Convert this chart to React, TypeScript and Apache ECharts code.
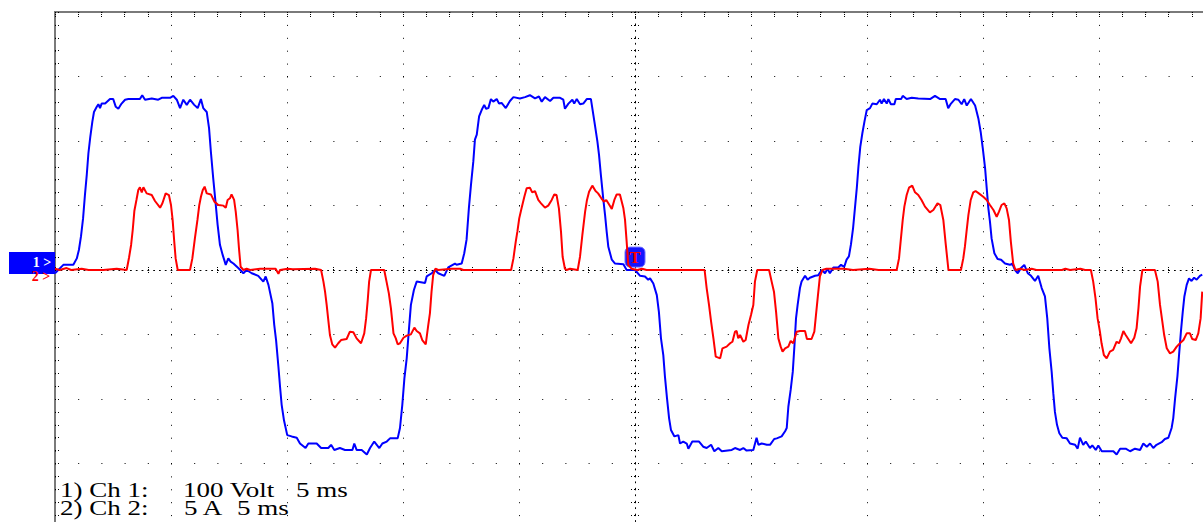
import React, { useEffect, useRef } from "react";
import * as echarts from "echarts";

// Channel 1 (blue): time in ms from the left edge of the screen, value in volts
const ch1Time = [
  0, 0.36, 0.79, 0.94, 1.03, 1.12, 1.21, 1.29, 1.37, 1.44, 1.52, 1.61, 1.68, 1.8, 1.87, 1.94, 2.01, 2.16, 2.37, 2.51,
  2.62, 2.73, 2.87, 3.02, 3.16, 3.66, 3.76, 3.88, 4.17, 4.45, 4.6, 4.96, 5.1, 5.25, 5.39, 5.53, 5.68, 5.82, 6.0, 6.15,
  6.29, 6.39, 6.54, 6.64, 6.72, 6.82, 6.93, 7.01, 7.11, 7.23, 7.36, 7.47, 7.57, 7.69, 7.9, 8.12, 8.26,
  8.48, 8.76, 8.98, 9.08, 9.2, 9.37, 9.45, 9.53, 9.63, 9.7, 9.77, 9.87, 10.01, 10.2, 10.42, 10.56, 10.8, 10.92, 11.28,
  11.47, 11.78, 11.9, 12.04, 12.28, 12.5, 12.82, 12.9, 13.0, 13.22, 13.44, 13.58, 13.76, 13.98, 14.11, 14.3, 14.44,
  14.77, 14.87, 14.97, 15.06, 15.16, 15.26, 15.34, 15.47, 15.59, 15.95, 16.02, 16.24,
  16.38, 16.52, 16.78, 16.95, 17.24, 17.31, 17.53, 17.64, 17.74, 17.84, 17.93, 18.03, 18.1, 18.18, 18.28, 18.39, 18.5,
  18.58, 18.68, 18.79, 18.89, 19.04, 19.14, 19.25, 19.43, 19.61, 19.76, 20.04, 20.26, 20.47, 20.69, 20.86, 20.98,
  21.12, 21.34, 21.48, 21.77, 21.91, 21.98, 22.13, 22.3, 22.38, 22.49, 22.63, 22.77, 22.92, 23.1, 23.25, 23.38, 23.45,
  23.53, 23.63, 23.71, 23.78, 23.85, 24.0, 24.14, 24.5, 24.64,
  25.0, 25.22, 25.43, 25.57, 25.65, 25.79, 25.94, 26.03, 26.12, 26.22, 26.29, 26.38, 26.47, 26.55, 26.7, 26.87, 26.94,
  27.08, 27.23, 27.3, 27.47, 27.76, 27.94, 28.09, 28.28, 28.42, 28.59, 28.74, 29.17, 29.31, 29.53, 29.67, 29.81, 30.1,
  30.24, 30.32, 30.46, 30.68, 30.82, 31.0, 31.11, 31.32, 31.47, 31.54, 31.61, 31.71, 31.8, 31.87, 31.94, 32.01, 32.11,
  32.18, 32.33, 32.44, 32.54, 32.76,
  32.9, 33.05, 33.19, 33.3, 33.4, 33.55, 33.76, 33.88, 34.02, 34.12, 34.22, 34.31, 34.4, 34.48, 34.56, 34.63, 34.71,
  34.8, 34.89, 34.99, 35.13, 35.23, 35.42, 35.56, 35.63, 35.73, 35.85, 35.92, 36.03, 36.18, 36.24, 36.47, 36.54, 36.71,
  36.93, 37.21, 37.72, 37.93, 38.15, 38.39, 38.5, 38.62, 38.79, 38.94, 39.08, 39.19, 39.3, 39.48, 39.66, 39.8, 39.9,
  39.99, 40.09, 40.16, 40.23, 40.3, 40.37, 40.49, 40.63, 40.78, 40.95, 41.16,
  41.26, 41.38, 41.5, 41.64, 41.78, 41.93, 42.07, 42.24, 42.38, 42.53, 42.67, 42.77, 42.86, 42.96, 43.03, 43.1, 43.19,
  43.29, 43.42, 43.61, 43.75, 43.97, 44.08, 44.18, 44.32, 44.43, 44.61, 44.71, 44.86, 44.97, 45.12, 45.62, 45.76,
  45.91, 46.15, 46.34, 46.55, 46.77, 46.91, 47.06, 47.2, 47.34, 47.48, 47.7, 47.84, 47.99, 48.13, 48.2, 48.28, 48.38,
  48.45, 48.53, 48.61, 48.68, 48.78, 48.88, 48.99, 49.1, 49.21, 49.35, 49.45,
];
const ch1Volt = [
  -5, 8, 8, 18, 31, 52, 80, 116, 148, 181, 206, 230, 245, 253, 257, 251, 258, 258, 265, 265,
  253, 250, 258, 264, 265, 265, 271, 264, 266, 264, 267, 267, 270, 264, 251, 264, 256, 264, 256, 251,
  265, 251, 245, 220, 183, 142, 101, 70, 39, 23, 8, 18, 13, 10, 3, -5, 0,
  -5, -9, -18, -10, -23, -52, -85, -109, -150, -181, -209, -233, -256, -258, -260, -269, -276, -269, -269,
  -276, -276, -271, -279, -276, -279, -279, -269, -279, -279, -286, -276, -266, -276, -269, -266, -261,
  -261, -245, -209, -168, -137, -90, -54, -31, -18, -20, -10, -5,
  0, -5, -9, 4, 10, 8, 10, 26, 47, 96, 132, 168, 202, 210, 238, 248, 256,
  250, 251, 265, 261, 265, 258, 259, 251, 262, 268, 266, 268, 271, 266, 269, 261,
  268, 262, 267, 267, 264, 250, 258, 264, 258, 265, 257, 258, 265, 265, 230, 199, 178,
  147, 111, 85, 59, 36, 16, 10, 9, 0,
  0, -9, -10, -15, -13, -21, -39, -65, -106, -132, -165, -199, -230, -248, -258, -256, -269,
  -266, -269, -277, -266, -266, -274, -276, -271, -281, -276, -281, -279, -276, -279, -276, -280, -279,
  -260, -271, -269, -271, -271, -262, -261, -258, -250, -245, -212, -186, -158, -119, -75, -54, -28,
  -18, -9, -15, -12, -9,
  -8, 0, -5, 2, -5, 4, 4, 8, 5, 16, 21, 40, 65, 96, 127, 160, 191,
  212, 230, 248, 251, 258, 257, 264, 258, 265, 258, 265, 257, 257, 265, 265, 270, 265,
  267, 266, 265, 270, 265, 265, 251, 258, 265, 264, 257, 265, 255, 265, 255, 235, 214,
  189, 158, 127, 96, 75, 49, 26, 17, 16, 10, 8,
  10, 0, -5, 3, 8, -5, -9, -17, -9, -28, -41, -75, -121, -158, -191, -220, -240,
  -253, -260, -261, -269, -271, -277, -260, -271, -266, -276, -272, -279, -272, -281, -281, -286,
  -277, -277, -281, -277, -279, -269, -274, -269, -276, -271, -267, -262, -260, -245, -230, -199, -165,
  -132, -96, -65, -41, -23, -13, -17, -12, -15, -9, -7,
];

// Channel 2 (red): time in ms from the left edge of the screen, value in amperes
const ch2Time = [
  0, 0.2, 0.5, 0.7, 1.15, 1.45, 2.08, 2.66, 3.09, 3.19, 3.28, 3.35, 3.42, 3.51, 3.59, 3.66, 3.74, 3.81, 3.95, 4.17,
  4.31, 4.53, 4.63, 4.77, 4.91, 5.0, 5.07, 5.14, 5.2, 5.29, 5.82, 5.92, 6.03, 6.14, 6.22, 6.29, 6.37, 6.45, 6.54,
  6.72, 6.87, 7.04, 7.26, 7.36, 7.44, 7.54, 7.61, 7.72, 7.79, 7.87, 7.93, 8.0, 8.12, 8.26, 8.41, 8.84, 9.51, 9.63,
  9.7, 10.03, 10.25, 11.21, 11.47, 11.57, 11.64, 11.71, 11.78, 11.85, 11.95, 12.07, 12.21, 12.33, 12.57, 12.71,
  12.86, 13.0, 13.19, 13.33, 13.41, 13.48, 13.54, 13.62, 14.19, 14.29, 14.39, 14.48, 14.59, 14.69, 14.77, 14.87,
  15.02, 15.16, 15.34, 15.49, 15.59, 15.73, 15.83, 15.98, 16.09, 16.16, 16.23, 16.3, 16.4, 16.52, 17.1, 17.46, 17.6,
  19.66, 19.76, 19.86, 19.93, 20.01, 20.11, 20.23, 20.33, 20.47, 20.57, 20.69, 20.83, 20.95, 21.12, 21.26, 21.41,
  21.52, 21.62, 21.72, 21.81, 21.88, 21.98, 22.05, 22.2, 22.53, 22.63, 22.73, 22.85, 22.93, 23.02, 23.16, 23.3,
  23.41, 23.55, 23.66, 23.76, 23.85, 24.0, 24.11, 24.21, 24.35, 24.5, 24.57, 24.64, 24.71, 24.85, 25.1, 25.3, 25.5,
  28.0, 28.09, 28.19, 28.28, 28.38, 28.48, 28.67, 28.77, 28.95, 29.1, 29.2, 29.31, 29.38, 29.45, 29.53, 29.67, 29.77,
  29.89, 30.0, 30.1, 30.17, 30.27, 30.78, 30.89, 30.99, 31.08, 31.18, 31.28, 31.36, 31.47, 31.61, 31.71, 31.82,
  31.97, 32.11, 32.33, 32.41, 32.61, 32.73, 32.8, 32.88, 32.97, 33.08, 33.25, 34.0, 34.4, 35.1, 35.5, 36.28, 36.38,
  36.47, 36.54, 36.61, 36.71, 36.81, 36.95, 37.07, 37.21, 37.35, 37.5, 37.71, 37.86, 38.04, 38.16, 38.29, 38.39,
  38.51, 39.05, 39.15, 39.22, 39.29, 39.37, 39.47, 39.58, 39.68, 39.82, 40.01, 40.16, 40.3, 40.45, 40.59, 40.69,
  40.8, 40.92, 41.02, 41.12, 41.2, 41.3, 41.4, 41.6, 41.8, 42.1, 42.3, 43.4, 43.55, 43.75, 44.2, 44.4, 44.65, 44.75,
  44.85, 44.94, 45.04, 45.11, 45.21, 45.33, 45.47, 45.61, 45.76, 45.86, 45.95, 46.05, 46.15, 46.29, 46.38, 46.52,
  46.62, 46.7, 46.77, 46.87, 47.41, 47.53, 47.63, 47.73, 47.81, 47.92, 48.06, 48.2, 48.35, 48.49, 48.64, 48.78,
  48.92, 49.02, 49.17, 49.28, 49.38, 49.45,
];
const ch2Amp = [
  0.1, 0, 0.15, 0, 0.1, 0, 0, 0.1, 0, 0.95, 1.94, 3.1, 4.57, 5.43, 6.2, 6.41, 6.02, 6.41, 5.94, 5.81,
  5.35, 4.83, 5.17, 5.94, 5.81, 5.04, 3.88, 2.2, 0.9, 0, 0, 0.9, 2.45, 3.88, 5.04, 5.68, 6.2, 6.46, 5.94,
  5.86, 5.3, 5.04, 4.99, 4.83, 5.43, 5.56, 5.86, 5.43, 4.52, 3.1, 1.68, 0.26, 0, 0.1, 0, 0.1, 0.1, -0.3,
  0, 0.1, 0.05, 0.1, 0, -0.9, -1.68, -2.71, -3.88, -5.04, -5.76, -6.02, -5.68, -5.43, -5.35, -4.78,
  -4.83, -5.3, -5.68, -4.91, -3.75, -2.33, -0.9, 0, 0, -0.9, -1.81, -2.97, -4.91, -5.3, -5.76, -5.68,
  -5.25, -5.09, -4.99, -4.47, -4.73, -4.91, -5.43, -5.76, -4.26, -3.36, -1.68, -0.4, 0.1, 0, 0.1, 0.1, 0,
  0, 0.9, 2.2, 2.97, 4.0, 4.78, 5.68, 6.33, 6.38, 6.02, 6.12, 5.43, 5.17, 4.83, 4.99, 5.43,
  5.86, 5.81, 4.78, 2.97, 1.03, 0.1, 0, 0.1, 0, 1.03, 2.71, 4.52, 5.43, 6.07, 6.54, 6.12,
  5.94, 5.56, 5.3, 5.43, 5.17, 4.73, 5.43, 5.86, 5.86, 4.78, 3.88, 2.2, 0.4, 0.1, 0, 0.1, 0,
  0, -1.42, -2.71, -4.0, -5.3, -6.72, -6.85, -6.07, -5.94, -5.68, -5.56, -4.78, -4.73, -5.3, -5.04, -5.56, -5.43,
  -4.26, -3.49, -2.71, -0.9, 0, 0, -0.9, -1.68, -3.23, -5.3, -5.94, -6.33, -6.07, -5.94, -5.5, -5.68,
  -4.78, -4.73, -4.73, -5.35, -5.35, -4.78, -3.5, -2.07, -0.5, 0, 0.1, 0.1, 0, 0.1, 0, 0, 0.9,
  2.58, 3.88, 4.91, 5.81, 6.38, 6.54, 6.02, 5.81, 5.43, 4.91, 4.47, 4.65, 5.17, 5.04, 3.88, 2.07,
  0, 0, 0.9, 1.81, 2.97, 4.26, 5.43, 6.02, 6.12, 5.94, 5.68, 5.43, 5.04, 4.65, 4.13, 4.52,
  5.04, 5.17, 4.78, 3.88, 2.2, 0.52, 0, 0.1, 0, 0.1, 0, 0, 0.1, 0, 0.1, 0, 0, -0.9,
  -2.2, -3.75, -4.78, -5.68, -6.59, -6.85, -6.33, -6.2, -5.56, -5.68, -5.3, -4.73, -5.04, -5.43, -5.68, -5.25,
  -4.52, -2.97, -1.29, 0, 0, -0.9, -2.71, -4.0, -5.04, -6.07, -6.46, -6.33, -5.94, -5.68, -5.43, -4.91,
  -4.91, -5.35, -5.43, -4.91, -3.75, -1.68,
];

const TRIGGER_MS = 25; // trigger at screen centre
const TRIGGER_LEVEL_V = 20;
const timeRange = [-25, 25];
const voltRange = [-400, 400];
const ampRange = [-20, 20];
const channelTags = ["1 >", "2 >"];
const legendLine1 = ["1) Ch 1:", "100 Volt", "5 ms"];
const legendLine2 = ["2) Ch 2:", "5 A", "5 ms"];

const BLUE = "#0000ff";
const RED = "#ff0000";
const SERIF = "'Liberation Serif', 'Times New Roman', serif";

export default function App() {
  const ref = useRef<HTMLDivElement>(null);
  useEffect(() => {
    if (!ref.current) return;
    const chart = echarts.init(ref.current, null, { renderer: "svg" });
    const blueData = ch1Time.map((t, i) => [t - TRIGGER_MS, ch1Volt[i]]);
    const redData = ch2Time.map((t, i) => [t - TRIGGER_MS, ch2Amp[i]]);
    const dotted = (gap: number) => ({ color: "#000", width: 1, type: [1, gap] as any });
    const tickStyle = { color: "#000", width: 1, type: [1, 1] as any };
    const textEl = (x: number, y: number, text: string) => ({
      type: "text",
      x,
      y,
      scaleX: 1.35,
      z: 10,
      style: { text, fontSize: 20, fontFamily: SERIF, fill: "#000", verticalAlign: "middle" },
    });
    chart.setOption({
      animation: false,
      backgroundColor: "#fff",
      grid: {
        left: 55,
        top: 12,
        width: 1160,
        height: 516,
        show: true,
        borderColor: "#7a7a7a",
        borderWidth: 2,
        backgroundColor: "transparent",
        containLabel: false,
        outerBoundsMode: "none",
      },
      xAxis: [
        {
          type: "value",
          min: timeRange[0],
          max: timeRange[1],
          interval: 5,
          position: "bottom",
          axisLine: { show: true, onZero: true, onZeroAxisIndex: 0, lineStyle: dotted(4.8) },
          axisTick: { show: true, length: 3, lineStyle: tickStyle },
          minorTick: { show: true, splitNumber: 5, length: 3, lineStyle: tickStyle },
          axisLabel: { show: false },
          splitLine: { show: true, lineStyle: dotted(11.9) },
          minorSplitLine: { show: false },
        },
        {
          type: "value",
          min: timeRange[0],
          max: timeRange[1],
          interval: 5,
          position: "top",
          axisLine: { show: false, onZero: true, onZeroAxisIndex: 0 },
          axisTick: { show: true, length: 3, lineStyle: tickStyle },
          minorTick: { show: true, splitNumber: 5, length: 3, lineStyle: tickStyle },
          axisLabel: { show: false },
          splitLine: { show: false },
        },
        {
          type: "value",
          min: timeRange[0],
          max: timeRange[1],
          interval: 5,
          position: "top",
          axisLine: { show: false, onZero: false },
          axisTick: { show: true, inside: true, length: 5, lineStyle: tickStyle },
          minorTick: { show: true, splitNumber: 5, length: 5, lineStyle: tickStyle },
          axisLabel: { show: false },
          splitLine: { show: false },
        },
      ],
      yAxis: [
        {
          type: "value",
          min: voltRange[0],
          max: voltRange[1],
          interval: 100,
          position: "left",
          axisLine: { show: true, onZero: true, onZeroAxisIndex: 0, lineStyle: dotted(5.45) },
          axisTick: { show: true, length: 4, lineStyle: { color: "#000", width: 1, type: [1, 2] } },
          minorTick: { show: true, splitNumber: 5, length: 4, lineStyle: { color: "#000", width: 1, type: [1, 2] } },
          axisLabel: { show: false },
          splitLine: { show: true, lineStyle: dotted(22.2) },
        },
        {
          type: "value",
          min: ampRange[0],
          max: ampRange[1],
          interval: 5,
          position: "right",
          axisLine: { show: false, onZero: true, onZeroAxisIndex: 0 },
          axisTick: { show: true, length: 4, lineStyle: { color: "#000", width: 1, type: [1, 2] } },
          minorTick: { show: true, splitNumber: 5, length: 4, lineStyle: { color: "#000", width: 1, type: [1, 2] } },
          axisLabel: { show: false },
          splitLine: { show: false },
        },
        {
          type: "value",
          min: voltRange[0],
          max: voltRange[1],
          interval: 100,
          position: "left",
          axisLine: { show: false, onZero: false },
          axisTick: { show: true, inside: true, length: 6, lineStyle: { color: "#000", width: 1, type: [1, 2] } },
          minorTick: { show: true, splitNumber: 5, length: 6, lineStyle: { color: "#000", width: 1, type: [1, 2] } },
          axisLabel: { show: false },
          splitLine: { show: false },
        },
      ],
      series: [
        {
          name: "Ch 1",
          type: "line",
          xAxisIndex: 0,
          yAxisIndex: 0,
          data: blueData,
          showSymbol: false,
          symbol: "none",
          color: BLUE,
          lineStyle: { color: BLUE, width: 2 },
          z: 3,
          markPoint: {
            z: 1,
            animation: false,
            data: [
              {
                coord: [0, TRIGGER_LEVEL_V],
                symbol: "roundRect",
                symbolSize: [20, 20],
                itemStyle: { color: "#1414ff", borderColor: "#6f6fff", borderWidth: 1 },
                label: {
                  show: true,
                  position: "inside",
                  formatter: "T",
                  color: RED,
                  fontWeight: "bold",
                  fontSize: 17,
                  fontFamily: SERIF,
                },
              },
              {
                coord: [timeRange[0], 0],
                symbol: "rect",
                symbolSize: [46, 22],
                symbolOffset: [-23, -7],
                itemStyle: { color: BLUE },
                label: {
                  show: true,
                  position: "inside",
                  formatter: channelTags[0],
                  color: "#fff",
                  fontWeight: "bold",
                  fontSize: 14,
                  lineHeight: 12,
                  fontFamily: SERIF,
                  offset: [10, -1],
                },
              },
            ],
          },
        },
        {
          name: "Ch 2",
          type: "line",
          xAxisIndex: 0,
          yAxisIndex: 1,
          data: redData,
          showSymbol: false,
          symbol: "none",
          color: RED,
          lineStyle: { color: RED, width: 2 },
          z: 4,
          markPoint: {
            z: 6,
            animation: false,
            data: [
              {
                coord: [timeRange[0], 0],
                symbol: "rect",
                symbolSize: [30, 12],
                symbolOffset: [-14, 6],
                itemStyle: { color: "rgba(0,0,0,0)" },
                label: {
                  show: true,
                  position: "inside",
                  formatter: channelTags[1],
                  color: RED,
                  fontWeight: "bold",
                  fontSize: 14,
                  lineHeight: 12,
                  fontFamily: SERIF,
                },
              },
            ],
          },
        },
      ],
      graphic: [
        textEl(60, 490, legendLine1[0]),
        textEl(183, 490, legendLine1[1]),
        textEl(296, 490, legendLine1[2]),
        textEl(60, 508, legendLine2[0]),
        textEl(184, 508, legendLine2[1]),
        textEl(237, 508, legendLine2[2]),
      ],
    });
    return () => chart.dispose();
  }, []);
  return (
    <div
      ref={ref}
      style={{ position: "fixed", left: 0, top: 0, width: 1203, height: 522, background: "#fff" }}
    />
  );
}
